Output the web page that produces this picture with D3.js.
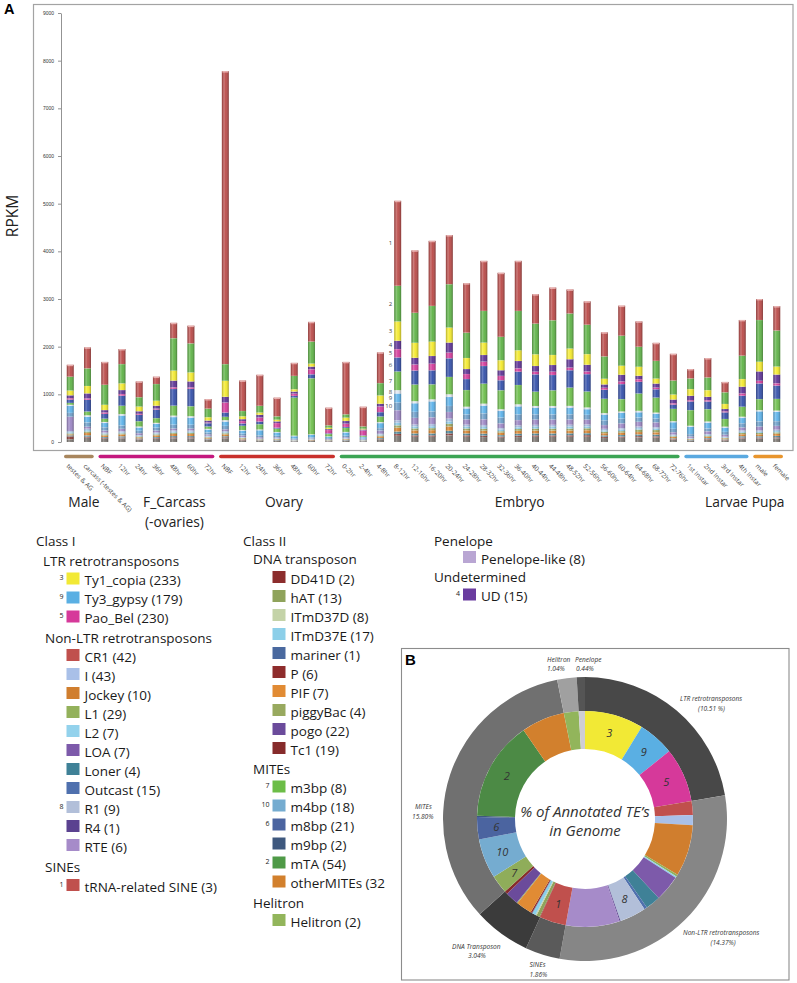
<!DOCTYPE html>
<html><head><meta charset="utf-8">
<script src="https://cdn.jsdelivr.net/npm/d3@7"></script>
<style>body{margin:0;background:#fff;} svg{display:block;font-family:'Open Sans',sans-serif;}</style>
</head><body><svg id="c" width="797" height="983"></svg>
<script>
// ---------------- DATA ----------------
const categories = ["testes & AG","carcass (-testes & AG)","NBF","12hr","24hr","36hr","48hr","60hr","72hr",
 "NBF","12hr","24hr","36hr","48hr","60hr","72hr",
 "0-2hr","2-4hr","4-8hr","8-12hr","12-16hr","16-20hr","20-24hr","24-28hr","28-32hr","32-36hr","36-40hr","40-44hr","44-48hr","48-52hr","52-56hr","56-60hr","60-64hr","64-68hr","68-72hr","72-76hr",
 "1st Instar","2nd Instar","3rd Instar","4th Instar","male","female"];
const groupNames = ["Male","F_Carcass","Ovary","Embryo","Larvae","Pupa"];
const groupSizes = [2,7,7,20,4,2];
const yTicks = [0,1000,2000,3000,4000,5000,6000,7000,8000,9000];

// stacked series, bottom -> top
const seriesKeys = ["Other","Tc1","Loner","otherMITEs","hAT","ITmD37E","I","RTE","m4bp","Ty3_gypsy","R1","m3bp","m8bp","Pao_Bel","UD","Ty1_copia","mTA","tRNA-related SINE"];
const vOther = [60,90,70,80,50,70,80,80,45,80,35,25,30,15,22,16,28,15,55,130,110,110,140,110,105,90,105,110,110,110,110,85,90,100,95,50,28,52,36,75,75,80];
const vTc1 = [60,20,15,15,10,15,20,20,10,20,10,5,5,3,5,4,6,3,12,40,30,30,40,30,30,25,30,30,30,32,35,25,25,25,25,12,6,14,9,20,20,20];
const vLoner = [20,30,20,25,15,20,25,25,15,22,10,8,8,5,7,5,8,5,18,50,40,40,55,40,40,30,38,40,40,40,40,30,32,35,35,16,9,18,12,27,27,28];
const vOtherMITEs = [20,50,35,40,25,36,45,44,20,40,20,12,12,7,11,8,14,7,35,80,66,70,90,64,62,52,62,60,60,60,64,46,50,50,50,28,15,30,19,43,42,46];
const vHAT = [20,30,20,20,15,20,25,24,12,22,10,7,8,4,6,5,8,4,17,50,40,42,55,40,40,30,38,40,40,40,40,30,32,50,47,16,9,17,12,27,27,28];
const vITmD37E = [25,30,20,23,15,20,24,24,14,22,10,8,9,5,7,5,9,5,18,54,40,42,55,40,40,32,38,40,40,40,40,30,31,32,30,17,10,18,12,27,27,28];
const vI = [25,30,20,23,15,20,24,24,14,22,10,7,8,4,7,5,8,4,17,54,40,43,55,40,40,33,39,40,40,40,40,30,31,32,30,17,9,17,12,26,26,28];
const vRTE = [300,40,40,50,40,40,40,40,30,40,30,30,20,10,10,15,20,10,70,210,140,140,140,110,120,100,110,110,110,110,100,80,100,100,100,50,30,60,40,60,80,80];
const vM4bp = [80,90,70,70,50,60,80,80,40,70,40,40,30,20,20,20,30,20,50,161,126,126,126,105,126,120,120,110,110,110,100,100,100,90,80,70,50,60,60,90,110,100];
const vGypsy = [150,120,90,210,70,80,160,150,60,90,60,105,70,49,56,30,70,30,105,189,182,210,189,126,161,140,168,140,140,140,120,120,120,110,100,140,154,119,90,110,210,196];
const vR1 = [20,30,20,30,20,20,30,30,15,30,15,15,10,10,10,5,10,5,20,70,42,42,56,35,40,35,42,35,35,35,35,30,30,30,25,20,20,25,20,25,25,25];
const vM3bp = [40,80,70,175,112,100,210,210,50,70,90,112,70,800,1176,49,84,20,119,392,350,315,364,350,420,399,406,301,329,385,336,301,259,364,315,259,329,259,161,210,231,245];
const vM8bp = [70,245,100,210,133,180,350,364,70,91,50,56,20,35,84,15,20,10,91,294,294,294,392,231,371,210,280,364,322,364,364,189,315,245,175,91,182,161,140,231,329,280];
const vPao = [30,30,30,35,20,20,35,30,15,210,50,84,98,49,105,70,70,105,119,175,126,140,119,105,91,91,70,56,70,56,56,42,56,56,35,28,28,28,21,49,56,49];
const vUD = [60,105,50,84,56,60,140,126,40,119,40,56,35,42,56,20,56,20,56,175,140,161,210,105,140,119,154,119,140,175,140,70,140,70,84,77,91,70,49,140,196,182];
const vTy1 = [100,155,110,140,98,105,210,189,70,336,60,49,35,49,63,28,70,15,175,405,315,301,315,231,259,210,224,245,210,224,224,119,189,189,105,105,140,140,105,161,203,168];
const vMTA = [290,370,420,405,196,350,680,609,180,350,110,140,70,280,462,49,70,49,259,748,630,749,910,532,665,490,826,644,728,735,616,469,630,420,371,294,224,266,245,490,875,756];
const vSINE = [250,440,480,315,330,154,322,371,200,6146,640,651,392,273,413,371,1099,413,644,1783,1309,1365,1029,1036,1050,1344,1050,616,686,504,490,504,630,532,378,560,196,406,217,749,441,511];
const seriesValues = [vOther,vTc1,vLoner,vOtherMITEs,vHAT,vITmD37E,vI,vRTE,vM4bp,vGypsy,vR1,vM3bp,vM8bp,vPao,vUD,vTy1,vMTA,vSINE];

// numbered families (number = index + 1)
const markerFamilies = ["tRNA-related SINE","mTA","Ty1_copia","UD","Pao_Bel","m8bp","m3bp","R1","Ty3_gypsy","m4bp"];
const markerBar = 19;

// legend labels
const ltrLabels = ["Ty1_copia (233)","Ty3_gypsy (179)","Pao_Bel (230)"];
const nonLtrLabels = ["CR1 (42)","I (43)","Jockey (10)","L1 (29)","L2 (7)","LOA (7)","Loner (4)","Outcast (15)","R1 (9)","R4 (1)","RTE (6)"];
const sineLabels = ["tRNA-related SINE (3)"];
const dnaLabels = ["DD41D (2)","hAT (13)","ITmD37D (8)","ITmD37E (17)","mariner (1)","P (6)","PIF (7)","piggyBac (4)","pogo (22)","Tc1 (19)"];
const miteLabels = ["m3bp (8)","m4bp (18)","m8bp (21)","m9bp (2)","mTA (54)","otherMITEs (32"];
const helitronLabels = ["Helitron (2)"];
const penelopeLabels = ["Penelope-like (8)"];
const udLabels = ["UD (15)"];

// donut (% of genome)
const outerGroups = ["LTR retrotransposons","Non-LTR retrotransposons","SINEs","DNA Transposon","MITEs","Helitron","Penelope"];
const outerPct = [10.51,14.37,1.86,3.04,15.80,1.04,0.44];
const innerFamilies = ["Ty1_copia","Ty3_gypsy","Pao_Bel","CR1","I","Jockey","L1","L2","LOA","Loner","Outcast","R1","R4","RTE",
 "tRNA-related SINE","DD41D","hAT","ITmD37D","ITmD37E","mariner","P","PIF","piggyBac","pogo","Tc1",
 "m3bp","m4bp","m8bp","m9bp","mTA","otherMITEs","Helitron","Penelope-like"];
const innerPct = [4.14,2.55,3.82,0.97,0.72,3.62,0.16,0.10,1.83,1.05,0.20,1.86,0.07,3.79,
 1.86,0.04,0.24,0.08,0.24,0.04,0.10,1.11,0.07,0.91,0.21,
 1.28,2.80,1.57,0.09,7.01,3.05,1.04,0.44];

// ---------------- STYLES ----------------
const barColor = {Other:"#7a746f",Tc1:"#8c3a35",Loner:"#4a8496",otherMITEs:"#d8822c",hAT:"#9ba75c",ITmD37E:"#88c9e6",I:"#a3b9df",RTE:"#9c86c5",m4bp:"#6c9dc8",Ty3_gypsy:"#5cb2ea",R1:"#e2e7f1",m3bp:"#6dbf4b",m8bp:"#3450aa",Pao_Bel:"#d53a9b",UD:"#5c3195",Ty1_copia:"#f4ea2c",mTA:"#5fb347","tRNA-related SINE":"#ba4a48"};
const famColor = {Ty1_copia:"#f2e935",Ty3_gypsy:"#5aafe3",Pao_Bel:"#d6399a",CR1:"#c0504d",I:"#a9c0e8",Jockey:"#d07e2e",L1:"#93b15b",L2:"#93d2ec",LOA:"#7d5aaa",Loner:"#3f8197",Outcast:"#4f70ae",R1:"#b2bfd9",R4:"#5b4290",RTE:"#a68bc9","tRNA-related SINE":"#c0504d",DD41D:"#8c2d2d",hAT:"#8fa35b",ITmD37D:"#c4d3a8",ITmD37E:"#8ccfe9",mariner:"#4a699f",P:"#8e2c2c",PIF:"#e18b34",piggyBac:"#98a95f",pogo:"#6b4b9b",Tc1:"#862b2b",m3bp:"#6cbd47",m4bp:"#75acd0",m8bp:"#4b64a0",m9bp:"#3e587e",mTA:"#4f9a47",otherMITEs:"#d2802d",Helitron:"#92b55b","Penelope-like":"#b9a6d3",UD:"#6a3c9f"};
const donutOverride = {m3bp:"#8fad5a",mTA:"#4c8a45","Penelope-like":"#cfcdd6"};
const outerColor = ["#484848","#868686","#5a5a5a","#3b3b3b","#707070","#a0a0a0","#555555"];
const groupColor = ["#a8865e","#c4187e","#c9302c","#3ba454","#5aa9e0","#e8952d"];
const groupLabelDx = [5,18,7,10,10,0];

const svg = d3.select("#c");
const defs = svg.append("defs");
const g1 = defs.append("linearGradient").attr("id","shade").attr("x1",0).attr("x2",1).attr("y1",0).attr("y2",0);
[[0,"#000",0.22],[0.3,"#fff",0.28],[0.55,"#fff",0.05],[1,"#000",0.3]].forEach(s=>g1.append("stop").attr("offset",s[0]).attr("stop-color",s[1]).attr("stop-opacity",s[2]));

// ---------------- PANEL A ----------------
svg.append("rect").attr("x",33.5).attr("y",4.5).attr("width",759.5).attr("height",446).attr("fill","none").attr("stroke","#a3a3a3").attr("stroke-width",1.2);
svg.append("text").attr("x",4).attr("y",14).attr("font-family","'Liberation Sans',Arial,sans-serif").attr("font-weight","bold").attr("font-size",14.5).text("A");

const x = d3.scaleBand().domain(d3.range(categories.length)).range([61.6,785.4]).paddingInner(0.594).paddingOuter(0.3);
const y = d3.scaleLinear().domain([0,9000]).range([442,13]);
const bw = x.bandwidth();

const yAxis = svg.append("g").attr("transform","translate(61,0)")
  .call(d3.axisLeft(y).tickValues(yTicks).tickFormat(d3.format("d")).tickSize(3).tickSizeOuter(0).tickPadding(4));
yAxis.selectAll("path,line").attr("stroke","#777").attr("stroke-width",0.8);
yAxis.selectAll("text").attr("font-size",5).attr("fill","#333").attr("font-family","'Liberation Sans',Arial,sans-serif");

svg.append("text").attr("transform","translate(18,216) rotate(-90)").attr("text-anchor","middle")
  .attr("font-size",15.5).attr("fill","#222").text("RPKM");

const rows = categories.map((c,i)=>{const o={idx:i}; seriesKeys.forEach((k,j)=>o[k]=seriesValues[j][i]); return o;});
const stacked = d3.stack().keys(seriesKeys)(rows);

const barsG = svg.append("g");
stacked.forEach(layer=>{
  barsG.append("g").selectAll("rect").data(layer).join("rect")
    .attr("x",d=>x(d.data.idx)).attr("width",bw)
    .attr("y",d=>y(d[1])).attr("height",d=>Math.max(0,y(d[0])-y(d[1])))
    .attr("fill",barColor[layer.key])
    .attr("stroke","rgba(255,255,255,0.35)").attr("stroke-width",0.3);
});
const totals = rows.map(r=>d3.sum(seriesKeys,k=>r[k]));
barsG.append("g").selectAll("rect").data(totals).join("rect")
  .attr("x",(d,i)=>x(i)).attr("width",bw).attr("y",d=>y(d)).attr("height",d=>y(0)-y(d))
  .attr("fill","url(#shade)");
barsG.append("g").selectAll("rect").data(totals).join("rect")
  .attr("x",(d,i)=>x(i)+0.5).attr("width",bw-1).attr("y",d=>y(d)).attr("height",1.4)
  .attr("fill","#f2c4c3").attr("opacity",0.8);

// numbers beside marker bar
markerFamilies.forEach((k,m)=>{
  const seg = stacked.find(l=>l.key===k)[markerBar];
  svg.append("text").attr("x",x(markerBar)-2).attr("y",y((seg[0]+seg[1])/2)).attr("dy","0.35em")
    .attr("text-anchor","end").attr("font-size",6).attr("fill","#444").text(m+1);
});

// x tick labels
svg.append("g").selectAll("text").data(categories).join("text")
  .attr("transform",(d,i)=>`translate(${x(i)+bw/2-3},465) rotate(45)`)
  .attr("font-size",6.5).attr("fill","#444").attr("dy","0.3em").text(d=>d);

// group lines & labels
let start = 0;
groupNames.forEach((name,gi)=>{
  const a = start, b = start+groupSizes[gi]-1;
  const x1 = x(a)-1, x2 = x(b)+bw+1;
  svg.append("line").attr("x1",x1).attr("x2",x2).attr("y1",456.5).attr("y2",456.5)
    .attr("stroke",groupColor[gi]).attr("stroke-width",3.5).attr("stroke-linecap","round");
  const cx = (x1+x2)/2 + groupLabelDx[gi];
  const parts = name==="F_Carcass" ? ["F_Carcass","(-ovaries)"] : [name];
  parts.forEach((p,pi)=>svg.append("text").attr("x",cx).attr("y",507+pi*20).attr("text-anchor","middle")
    .attr("font-size",13.8).attr("fill","#222").text(p));
  start = b+1;
});

// ---------------- LEGEND ----------------
const LF = 13.5;
function header(txt,xx,yy){svg.append("text").attr("x",xx).attr("y",yy).attr("font-size",LF).attr("fill","#1a1a1a").text(txt);}
function entries(labels,sx,y0,step){
  labels.forEach((lab,i)=>{
    const key = lab.split(" (")[0];
    const yy = y0+i*step;
    svg.append("rect").attr("x",sx).attr("y",yy-12.5).attr("width",13).attr("height",12).attr("fill",famColor[key]);
    svg.append("text").attr("x",sx+18).attr("y",yy).attr("font-size",LF).attr("fill","#1a1a1a").text(lab);
    const m = markerFamilies.indexOf(key);
    if(m>=0) svg.append("text").attr("x",sx-3).attr("y",yy-5).attr("text-anchor","end").attr("font-size",7).attr("fill","#222").text(m+1);
  });
}
header("Class I",36,546);
header("LTR retrotransposons",43,565.5);
entries(ltrLabels,66.5,585,19);
header("Non-LTR retrotransposons",45,642.5);
entries(nonLtrLabels,66.5,661.5,19);
header("SINEs",45,872);
entries(sineLabels,66.5,891.5,19);

header("Class II",243,546);
header("DNA transposon",253,564);
entries(dnaLabels,272.5,583.5,19);
header("MITEs",253,774);
entries(miteLabels,272.5,793,19);
header("Helitron",253,907.5);
entries(helitronLabels,272.5,926.5,19);

header("Penelope",434,546);
entries(penelopeLabels,463,563.5,19);
header("Undetermined",434,582);
entries(udLabels,463,601,19);

// ---------------- PANEL B ----------------
svg.append("rect").attr("x",401.5).attr("y",648.5).attr("width",387.5).attr("height",331.5).attr("fill","none").attr("stroke","#8c8c8c").attr("stroke-width",1.1);
svg.append("text").attr("x",405).attr("y",665).attr("font-family","'Liberation Sans',Arial,sans-serif").attr("font-weight","bold").attr("font-size",15).text("B");

const cx0 = 585, cy0 = 819;
const dG = svg.append("g").attr("transform",`translate(${cx0},${cy0})`);
const pie = d3.pie().sort(null).value(d=>d);
const arcOuter = d3.arc().innerRadius(108).outerRadius(142);
const arcInner = d3.arc().innerRadius(70).outerRadius(108);
dG.selectAll("path.o").data(pie(outerPct)).join("path").attr("class","o")
  .attr("d",arcOuter).attr("fill",(d,i)=>outerColor[i]);
const innerArcs = pie(innerPct);
dG.selectAll("path.i").data(innerArcs).join("path").attr("class","i")
  .attr("d",arcInner).attr("fill",(d,i)=>donutOverride[innerFamilies[i]]||famColor[innerFamilies[i]]);
innerArcs.forEach((a,i)=>{
  const m = markerFamilies.indexOf(innerFamilies[i]);
  if(m<0) return;
  const c = arcInner.centroid(a);
  dG.append("text").attr("x",c[0]).attr("y",c[1]).attr("dy","0.35em").attr("text-anchor","middle")
    .attr("font-style","italic").attr("font-size",11).attr("fill","#333").text(m+1);
});
dG.append("text").attr("y",-2).attr("text-anchor","middle").attr("font-style","italic").attr("font-size",15).attr("fill","#333").text("% of Annotated TE\u2019s");
dG.append("text").attr("y",17).attr("text-anchor","middle").attr("font-style","italic").attr("font-size",15).attr("fill","#333").text("in Genome");

// outer annotations
const ann = [
  ["Helitron",547,661.5],["1.04%",547,670.5],
  ["Penelope",575,661.5],["0.44%",576,670.5],
  ["LTR retrotransposons",680,701],["(10.51 %)",698,711],
  ["MITEs",415,808.5],["15.80%",412,818.5],
  ["Non-LTR retrotransposons",683,935],["(14.37%)",710.5,945],
  ["DNA Transposon",452,948.5],["3.04%",468,957.5],
  ["SINEs",529.5,966.5],["1.86%",529.5,976.5]
];
ann.forEach(a=>svg.append("text").attr("x",a[1]).attr("y",a[2]).attr("font-style","italic").attr("font-size",6.6).attr("fill","#333").text(a[0]));
</script></body></html>
